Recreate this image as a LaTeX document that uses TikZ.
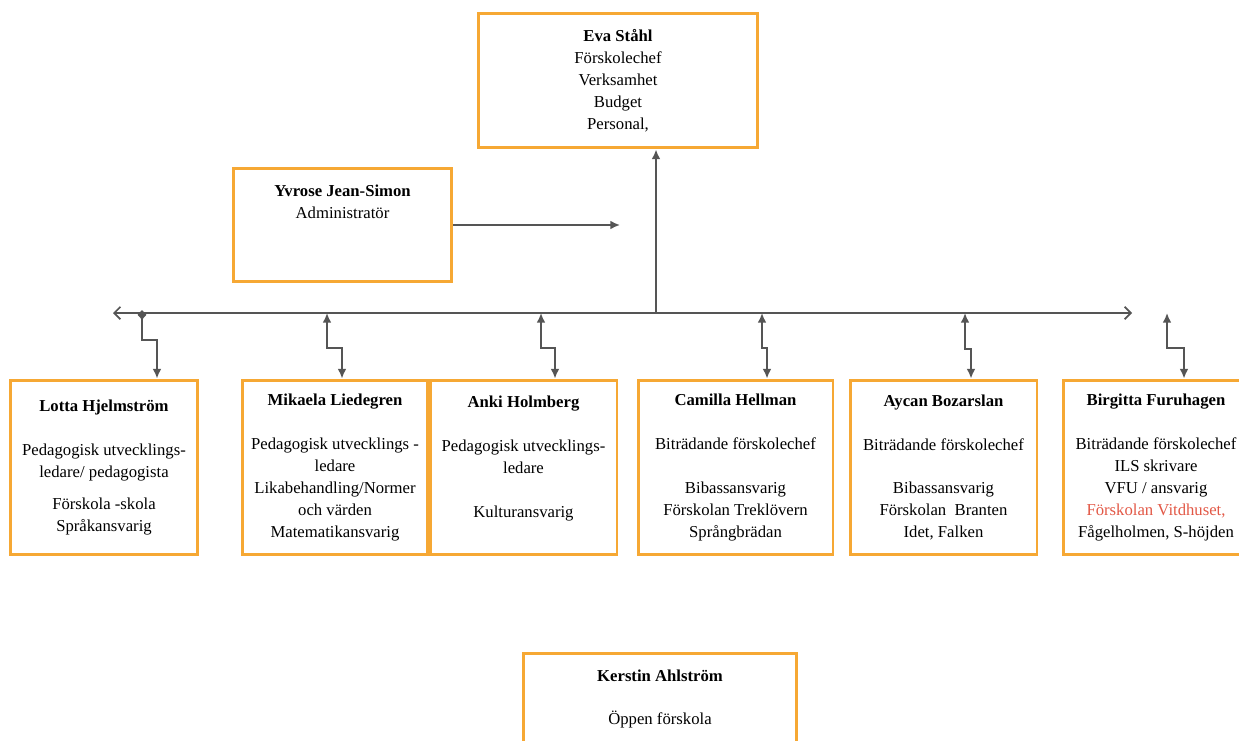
\documentclass[tikz,border=0pt]{standalone}
\usepackage{fontspec}
\setmainfont{Liberation Serif}
\usetikzlibrary{arrows.meta,positioning}
\definecolor{boxorange}{RGB}{246,168,52}
\definecolor{linegray}{RGB}{85,85,85}
\definecolor{markred}{RGB}{226,88,70}

\begin{document}
\begin{tikzpicture}[x=0.02cm, y=-0.02cm,
	orgbox/.style={draw=boxorange, line width=1.7pt, align=center, inner sep=0pt, font=\fontsize{9.5}{12.5}\selectfont},
	unitbox/.style={orgbox, minimum height=3.5cm},
	wire/.style={draw=linegray, line width=1pt},
	link/.style={wire, arrows={Latex[length=5.5pt,width=5pt]-Latex[length=5.5pt,width=5pt]}}]
	\useasboundingbox (0,0) rectangle (1239,740);

	% ledning
	\node [orgbox, minimum width=5.6cm, minimum height=2.7cm] (eva) at (618,80.5) {\textbf{Eva Ståhl}\\Förskolechef\\Verksamhet\\Budget\\Personal,};
	\node [orgbox, minimum width=4.38cm, minimum height=2.28cm] (yvrose) at (342.5,225) {\textbf{Yvrose Jean-Simon}\\Administratör\\[14pt]\mbox{}};

	% enheter
	\node [unitbox, minimum width=3.76cm] (lotta) at (104,467.5) {\textbf{Lotta Hjelmström}\\[12.5pt]Pedagogisk utvecklings-\\ledare/ pedagogista\\[6pt]Förskola -skola\\Språkansvarig};
	\node [unitbox, minimum width=3.72cm] (mikaela) at (335,467.5) {\textbf{Mikaela Liedegren}\\[12.5pt]Pedagogisk utvecklings -\\ledare\\Likabehandling/Normer\\och värden\\Matematikansvarig};
	\node [unitbox, minimum width=3.74cm] (anki) at (523.5,467.5) {\textbf{Anki Holmberg}\\[12.5pt]Pedagogisk utvecklings-\\ledare\\[12.5pt]Kulturansvarig\\\mbox{}};
	\node [unitbox, minimum width=3.9cm] (camilla) at (735.5,467.5) {\textbf{Camilla Hellman}\\[12.5pt]Biträdande förskolechef\\[12.5pt]Bibassansvarig\\Förskolan Treklövern\\Språngbrädan};
	\node [unitbox, minimum width=3.74cm] (aycan) at (943.5,467.5) {\textbf{Aycan Bozarslan}\\[12.5pt]Biträdande förskolechef\\[12.5pt]Bibassansvarig\\Förskolan~ Branten\\Idet, Falken};
	\node [unitbox, minimum width=3.72cm] (birgitta) at (1156,467.5) {\textbf{Birgitta Furuhagen}\\[12.5pt]Biträdande förskolechef\\ILS skrivare\\VFU / ansvarig\\\textcolor{markred}{Förskolan Vitdhuset,}\\Fågelholmen, S-höjden};

	\node [orgbox, minimum width=5.48cm, minimum height=1.84cm] (kerstin) at (660,699) {\textbf{Kerstin Ahlström}\\[12.5pt]Öppen förskola};

	% linjer
	\coordinate (busL) at (113,313);
	\coordinate (busR) at (1132,313);
	\coordinate (hub) at (656,313);
	\coordinate (admend) at (620,225);
	\draw [wire, arrows={Straight Barb[length=3.5pt,width=7pt]-Straight Barb[length=3.5pt,width=7pt]}] (busL) -- (busR);
	\draw [wire, -{Latex[length=5.5pt,width=5pt]}] (hub) -- (hub |- eva.south);
	\draw [wire, -{Latex[length=5.5pt,width=5pt]}] (yvrose.east) -- (admend);

	\coordinate (tapA) at (142,310);
	\coordinate (tapB) at (327,313);
	\coordinate (tapC) at (541,313);
	\coordinate (tapD) at (762,313);
	\coordinate (tapE) at (965,313);
	\coordinate (tapF) at (1167,313);
	\draw [wire, arrows={Turned Square[length=5.5pt,width=5pt]-Latex[length=5.5pt,width=5pt]}] (tapA) -- ++(0,30) -| ([xshift=0.3cm]tapA |- lotta.north);
	\draw [link] (tapB) -- ++(0,35) -| ([xshift=0.3cm]tapB |- mikaela.north);
	\draw [link] (tapC) -- ++(0,35) -| ([xshift=0.28cm]tapC |- anki.north);
	\draw [link] (tapD) -- ++(0,35) -| ([xshift=0.1cm]tapD |- camilla.north);
	\draw [link] (tapE) -- ++(0,36) -| ([xshift=0.12cm]tapE |- aycan.north);
	\draw [link] (tapF) -- ++(0,35) -| ([xshift=0.34cm]tapF |- birgitta.north);
\end{tikzpicture}
\end{document}
